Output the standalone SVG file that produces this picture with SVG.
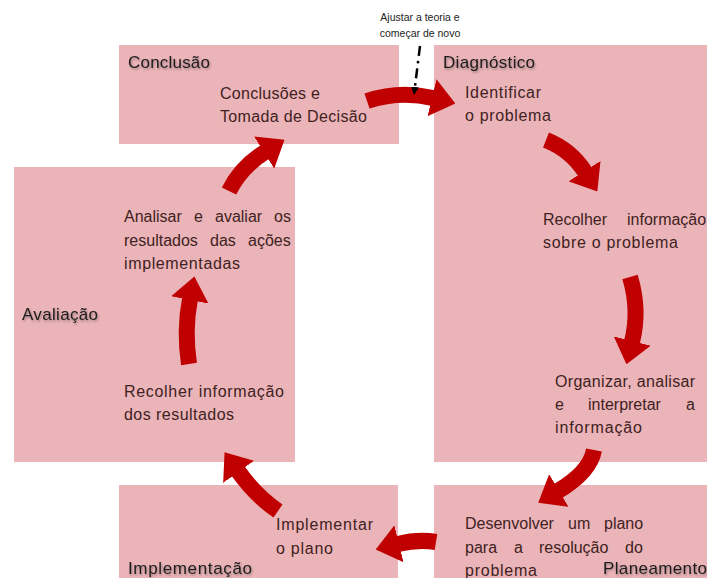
<svg xmlns="http://www.w3.org/2000/svg" width="707" height="578" viewBox="0 0 707 578">
  <defs>
    <style>
      .box { fill: #EBB4B8; }
      .hdr { font-family: "Liberation Sans", Arial, sans-serif; font-size: 17px; fill: #1c1c1c; filter: url(#shadow); }
      .txt { font-family: "Liberation Sans", Arial, sans-serif; font-size: 16px; fill: #3f2222; }
      .note { font-family: "Liberation Sans", Arial, sans-serif; font-size: 10.5px; fill: #222222; }
      .arrow { fill: none; stroke: #C00000; stroke-width: 16; stroke-linecap: butt; marker-end: url(#head); }
      .restart { fill: none; stroke: #000000; stroke-width: 2.5; stroke-dasharray: 10 5 2.5 5; marker-end: url(#smallhead); }
    </style>
    <filter id="shadow" x="-10%" y="-30%" width="130%" height="170%">
      <feDropShadow dx="1" dy="1.5" stdDeviation="1" flood-color="#000000" flood-opacity="0.35"/>
    </filter>
    <marker id="head" markerUnits="userSpaceOnUse" markerWidth="24" markerHeight="38" viewBox="0 0 24 38" refX="1" refY="19" orient="auto">
      <path d="M0,0 L24,19 L0,38 Z" fill="#C00000"/>
    </marker>
    <marker id="smallhead" markerUnits="userSpaceOnUse" markerWidth="8" markerHeight="8" viewBox="0 0 8 8" refX="1" refY="4" orient="auto">
      <path d="M0,0 L8,4 L0,8 Z" fill="#000000"/>
    </marker>
  </defs>

  <rect width="707" height="578" fill="#ffffff"/>

  <!-- Conclusion stage -->
  <g id="conclusao">
    <rect class="box" x="119" y="45" width="280" height="99"/>
    <text class="hdr" x="128" y="68" textLength="82">Conclusão</text>
    <text class="txt" x="220" y="99" textLength="100">Conclusões e</text>
    <text class="txt" x="220" y="122" textLength="147">Tomada de Decisão</text>
  </g>

  <!-- Diagnosis stage (tall right column) -->
  <g id="diagnostico">
    <rect class="box" x="434" y="45" width="273" height="417"/>
    <text class="hdr" x="443" y="68" textLength="92">Diagnóstico</text>
    <text class="txt" x="465" y="98" textLength="76">Identificar</text>
    <text class="txt" x="465" y="121" textLength="86">o problema</text>
    <text class="txt" y="225"><tspan x="543">Recolher</tspan> <tspan x="627">informação</tspan></text>
    <text class="txt" x="543" y="248" textLength="135">sobre o problema</text>
    <text class="txt" x="555" y="387" textLength="140">Organizar, analisar</text>
    <text class="txt" y="410"><tspan x="555">e</tspan> <tspan x="588">interpretar</tspan> <tspan x="686">a</tspan></text>
    <text class="txt" x="555" y="433" textLength="87">informação</text>
  </g>

  <!-- Evaluation stage -->
  <g id="avaliacao">
    <rect class="box" x="14" y="167" width="281" height="295"/>
    <text class="hdr" x="22" y="320" textLength="76">Avaliação</text>
    <text class="txt" y="222"><tspan x="124">Analisar</tspan> <tspan x="194">e</tspan> <tspan x="215">avaliar</tspan> <tspan x="274">os</tspan></text>
    <text class="txt" y="246"><tspan x="124">resultados</tspan> <tspan x="210">das</tspan> <tspan x="248">ações</tspan></text>
    <text class="txt" x="124" y="269" textLength="116">implementadas</text>
    <text class="txt" x="124" y="397" textLength="160">Recolher informação</text>
    <text class="txt" x="124" y="420" textLength="110">dos resultados</text>
  </g>

  <!-- Implementation stage -->
  <g id="implementacao">
    <rect class="box" x="119" y="485" width="279" height="93"/>
    <text class="txt" x="276" y="530" textLength="97">Implementar</text>
    <text class="txt" x="276" y="554" textLength="57">o plano</text>
    <text class="hdr" x="128" y="574" textLength="124">Implementação</text>
  </g>

  <!-- Planning stage -->
  <g id="planeamento">
    <rect class="box" x="434" y="485" width="273" height="93"/>
    <text class="txt" y="529"><tspan x="465">Desenvolver</tspan> <tspan x="568">um</tspan> <tspan x="604">plano</tspan></text>
    <text class="txt" y="553"><tspan x="465">para</tspan> <tspan x="514">a</tspan> <tspan x="539">resolução</tspan> <tspan x="625">do</tspan></text>
    <text class="txt" x="465" y="576" textLength="72">problema</text>
    <text class="hdr" x="603" y="574" textLength="104">Planeamento</text>
  </g>

  <!-- Restart note -->
  <g id="ajustar">
    <text class="note" x="420" y="21" text-anchor="middle">Ajustar a teoria e</text>
    <text class="note" x="420" y="37" text-anchor="middle">começar de novo</text>
  </g>

  <!-- Cycle connectors -->
  <g id="connectors">
    <path class="arrow" d="M367,101 Q400,90 433,98"/>
    <path class="arrow" d="M546,140 Q571,150 585,172"/>
    <path class="arrow" d="M630,277 Q640,310 632,342"/>
    <path class="arrow" d="M594,450 Q590,472 558,491"/>
    <path class="arrow" d="M436,542 Q418,539 398,544"/>
    <path class="arrow" d="M278,511 Q256,496 238,471"/>
    <path class="arrow" d="M229,191 Q241,167 265,152"/>
    <path class="arrow" d="M189,364 Q184,330 190,299"/>
    <path class="restart" d="M420,46 L414.8,88"/>
  </g>
</svg>
